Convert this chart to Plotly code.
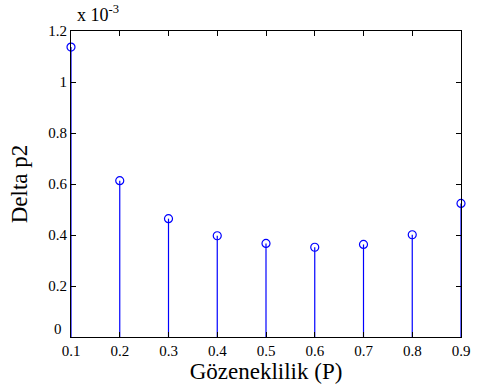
import plotly.graph_objects as go

porosity = [0.1, 0.2, 0.3, 0.4, 0.5, 0.6, 0.7, 0.8, 0.9]
delta_p2_e3 = [1.137, 0.613, 0.464, 0.397, 0.367, 0.352, 0.363, 0.401, 0.524]  # x 10^-3
x_ticks = [0.1, 0.2, 0.3, 0.4, 0.5, 0.6, 0.7, 0.8, 0.9]
y_ticks = [0, 0.2, 0.4, 0.6, 0.8, 1.0, 1.2]
y_tick_text = ["0", "0.2", "0.4", "0.6", "0.8", "1", "1.2"]

FONT = "Liberation Serif"
stem_x, stem_y = [], []
for xv, yv in zip(porosity, delta_p2_e3):
    stem_x += [xv, xv, None]
    stem_y += [0, yv, None]

fig = go.Figure()
fig.add_trace(go.Scatter(x=stem_x, y=stem_y, mode="lines", cliponaxis=False,
                         line=dict(color="#0000ff", width=1.2), hoverinfo="skip"))
fig.add_trace(go.Scatter(x=porosity, y=delta_p2_e3, mode="markers", cliponaxis=False,
                         marker=dict(symbol="circle-open", size=8, color="#0000ff",
                                     line=dict(width=1.2, color="#0000ff"))))

# the "0" label sits slightly higher (as in the MATLAB original), drawn as annotation
shown_text = ["" if v == 0 else t for v, t in zip(y_ticks, y_tick_text)]

fig.update_layout(
    width=478, height=388,
    margin=dict(l=71, r=17, t=31, b=51, autoexpand=False),
    paper_bgcolor="white", plot_bgcolor="white",
    showlegend=False,
    font=dict(family=FONT, color="black", size=15),
    xaxis=dict(range=[0.1, 0.9], tickvals=x_ticks, ticktext=[f"{v:.1f}" for v in x_ticks],
               showgrid=False, zeroline=False, showline=True, mirror="ticks",
               linecolor="black", linewidth=1, ticks="inside", ticklen=5, automargin=False,
               tickcolor="black", tickfont=dict(family=FONT, size=15),
               title=dict(text="Gözeneklilik (P)", font=dict(family=FONT, size=23), standoff=0)),
    yaxis=dict(range=[0, 1.2], tickvals=y_ticks, ticktext=shown_text,
               showgrid=False, zeroline=False, showline=True, mirror="ticks",
               linecolor="black", linewidth=1, ticks="inside", ticklen=5, automargin=False,
               tickcolor="black", tickfont=dict(family=FONT, size=15),
               title=dict(text="Delta p2", font=dict(family=FONT, size=23), standoff=14)),
    annotations=[
        dict(text="x 10<sup>-3</sup>", xref="paper", yref="paper",
             x=0.0, y=1.0, xanchor="left", yanchor="bottom", yshift=4, xshift=4,
             showarrow=False, font=dict(family=FONT, size=18)),
        dict(text=y_tick_text[0], xref="paper", yref="y", x=0.0, y=y_ticks[0],
             xanchor="right", yanchor="middle", xshift=-7, yshift=8,
             showarrow=False, font=dict(family=FONT, size=15)),
    ],
)
fig.write_html("out.html", config={"displayModeBar": False},
               post_script="document.body.style.margin='0';")
